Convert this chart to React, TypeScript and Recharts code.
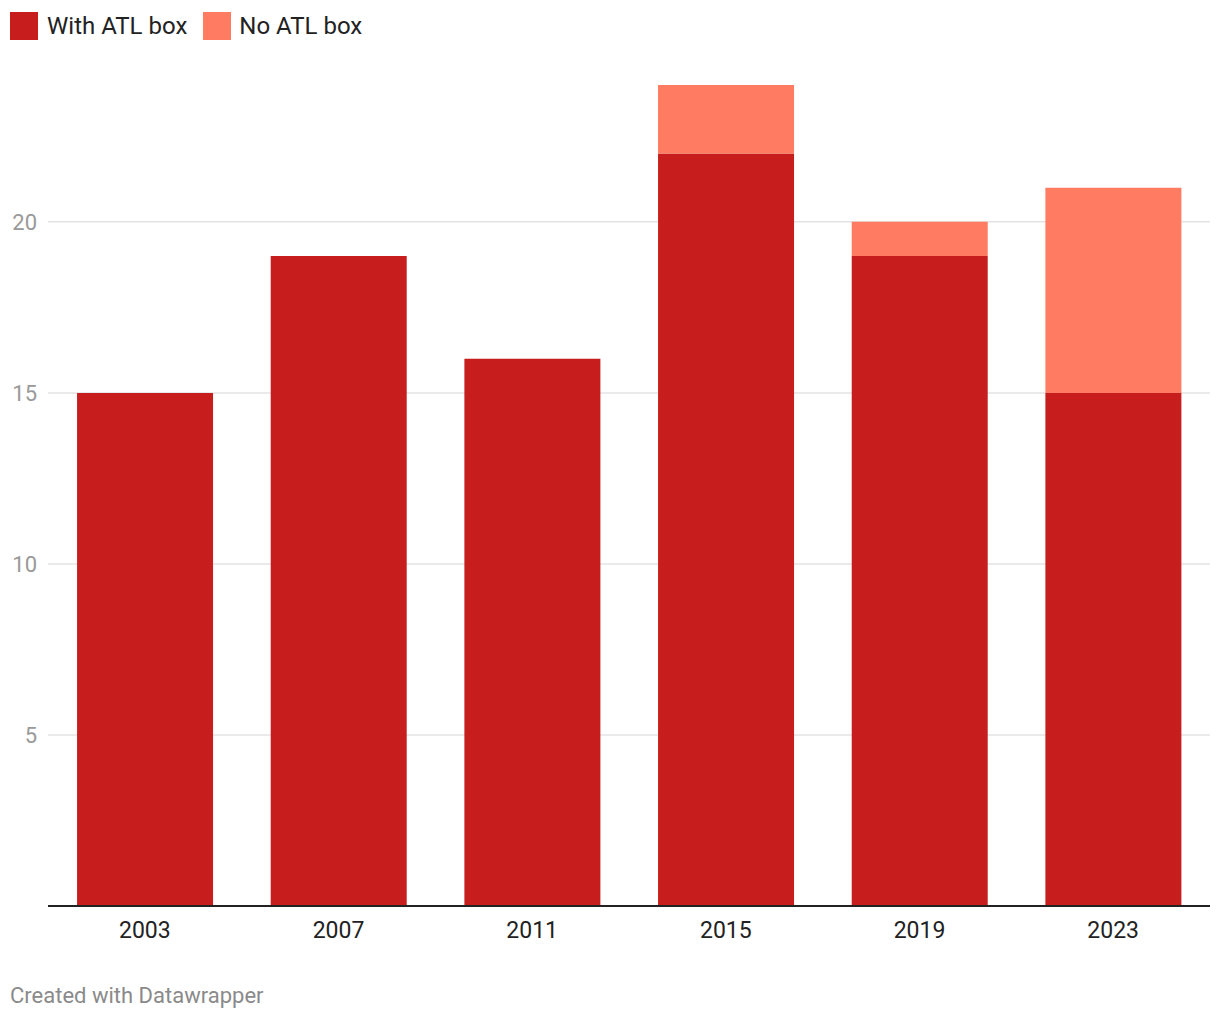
import React from "react";
import { BarChart, Bar, XAxis, YAxis, CartesianGrid } from "recharts";

const years = ["2003", "2007", "2011", "2015", "2019", "2023"];
const withAtl = [15, 19, 16, 22, 19, 15];
const noAtl = [0, 0, 0, 2, 1, 6];
const yTicks = [5, 10, 15, 20];

const data = years.map((y, i) => ({ year: y, withAtl: withAtl[i], noAtl: noAtl[i] }));

const DARK = "#c71e1d";
const LIGHT = "#ff7b61";
const FONT = "Roboto, sans-serif";

export default function App() {
  return (
    <div style={{ position: "absolute", left: 0, top: 0, width: 1220, height: 1020, background: "#fff", fontFamily: FONT }}>
      <div style={{ position: "absolute", left: 10, top: 12, display: "flex", alignItems: "center", fontSize: 24, color: "#222", lineHeight: "28px" }}>
        <span style={{ display: "inline-block", width: 28, height: 28, background: DARK, marginRight: 9 }} />
        <span style={{ marginRight: 16 }}>With ATL box</span>
        <span style={{ display: "inline-block", width: 28, height: 28, background: LIGHT, marginRight: 8 }} />
        <span>No ATL box</span>
      </div>
      <BarChart
        width={1220}
        height={1020}
        data={data}
        margin={{ top: 85, right: 10, bottom: 74, left: 0 }}
        barCategoryGap="15%"
      >
        <CartesianGrid vertical={false} horizontalValues={yTicks} stroke="#e3e3e3" strokeWidth={1.5} />
        <YAxis
          domain={[0, 24]}
          ticks={yTicks}
          width={48}
          axisLine={false}
          tickLine={false}
          tickSize={0}
          tickMargin={11}
          tick={{ fill: "#999999", fontSize: 22, fontFamily: FONT }}
        />
        <XAxis
          dataKey="year"
          height={40}
          axisLine={{ stroke: "#222", strokeWidth: 2 }}
          tickLine={false}
          tickSize={0}
          tickMargin={16}
          tick={{ fill: "#222", fontSize: 23, fontFamily: FONT }}
        />
        <Bar dataKey="withAtl" stackId="a" fill={DARK} isAnimationActive={false} />
        <Bar dataKey="noAtl" stackId="a" fill={LIGHT} isAnimationActive={false} />
      </BarChart>
      <div style={{ position: "absolute", left: 10, top: 983, fontSize: 22, color: "#8a8a8a" }}>Created with Datawrapper</div>
    </div>
  );
}
